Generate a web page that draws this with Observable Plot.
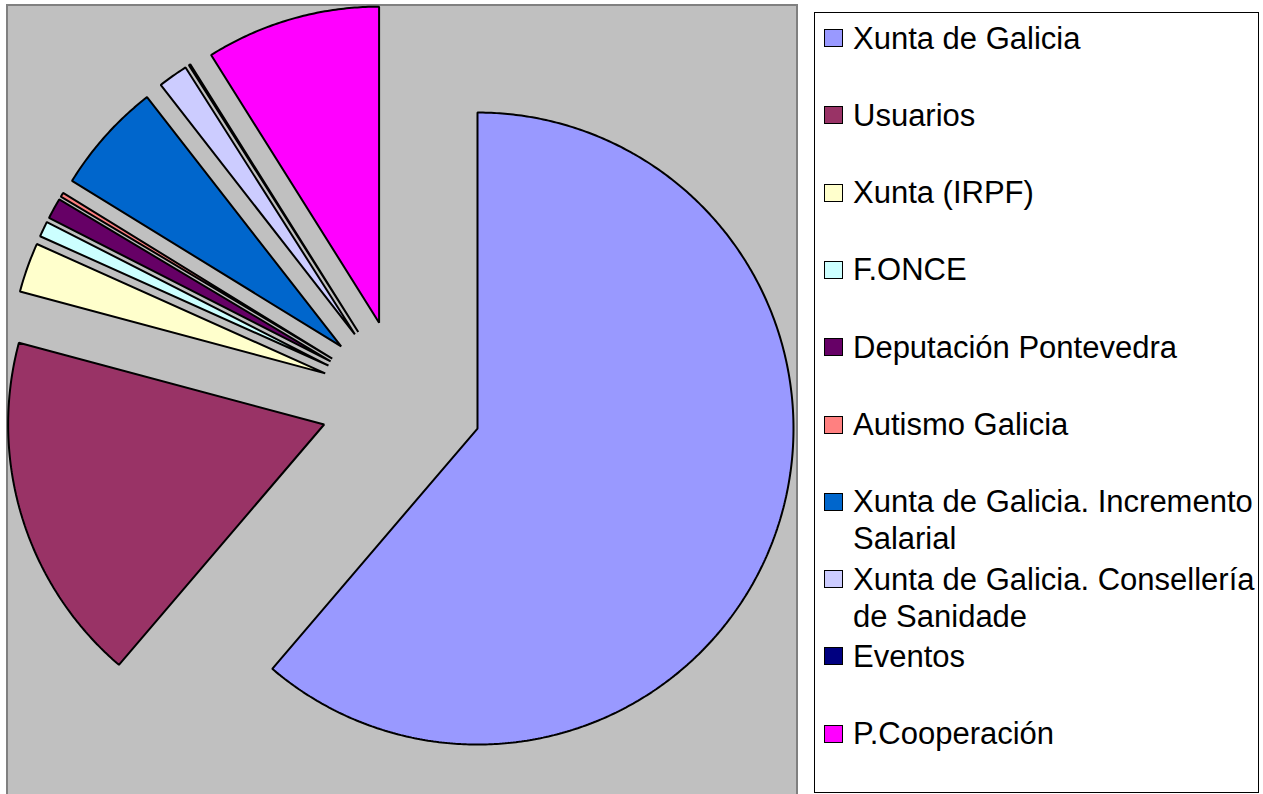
<!DOCTYPE html>
<html>
<head>
<meta charset="utf-8">
<script src="https://cdn.jsdelivr.net/npm/d3@7"></script>
<script src="https://cdn.jsdelivr.net/npm/@observablehq/plot@0.6"></script>
<style>
  body { margin: 0; background: #fff; font-family: "Liberation Sans", Arial, sans-serif; }
  #wrap { position: relative; width: 1263px; height: 794px; overflow: hidden; }
  #plotbg { position: absolute; left: 6px; top: 4px; width: 788px; height: 800px; background: #c0c0c0;
            border-left: 2px solid #808080; border-top: 2px solid #808080; border-right: 2px solid #808080; }
  #chart { position: absolute; left: 0; top: 0; }
  #legend { position: absolute; left: 814px; top: 12px; width: 445px; height: 781px; box-sizing: border-box;
            border: 1.5px solid #000; background: #fff; }
  .sw { position: absolute; left: 9px; width: 19px; height: 18px; box-sizing: border-box; border: 1.5px solid #000; }
  .lab { position: absolute; left: 38px; font-size: 31px; line-height: 37px; color: #000; white-space: nowrap; }
</style>
</head>
<body>
<div id="wrap">
  <div id="plotbg"></div>
  <div id="chart"></div>
  <div id="legend"></div>
</div>
<script>
// ---- data ----
const categories = [
  "Xunta de Galicia",
  "Usuarios",
  "Xunta (IRPF)",
  "F.ONCE",
  "Deputación Pontevedra",
  "Autismo Galicia",
  "Xunta de Galicia. Incremento Salarial",
  "Xunta de Galicia. Consellería de Sanidade",
  "Eventos",
  "P.Cooperación"
];
const shares = [61.25, 17.92, 2.54, 0.79, 1.06, 0.22, 5.69, 1.53, 0.08, 8.92];
const colors = ["#9999FF", "#993366", "#FFFFCC", "#CCFFFF", "#660066", "#FF8080", "#0066CC", "#CCCCFF", "#000080", "#FF00FF"];
const legendLines = [
  ["Xunta de Galicia"],
  ["Usuarios"],
  ["Xunta (IRPF)"],
  ["F.ONCE"],
  ["Deputación Pontevedra"],
  ["Autismo Galicia"],
  ["Xunta de Galicia. Incremento", "Salarial"],
  ["Xunta de Galicia. Consellería", "de Sanidade"],
  ["Eventos"],
  ["P.Cooperación"]
];

// ---- layout ----
const cx = 401, cy = 400, R = 316, explode = 81;
const total = d3.sum(shares);
const pts = [];
let acc = 0;
categories.forEach((name, i) => {
  const a0 = acc / total * 2 * Math.PI;
  acc += shares[i];
  const a1 = acc / total * 2 * Math.PI;
  const am = (a0 + a1) / 2;
  const vx = cx + explode * Math.sin(am), vy = cy - explode * Math.cos(am);
  pts.push({name, x: vx, y: vy});
  const n = Math.max(2, Math.ceil((a1 - a0) / (Math.PI / 360)));
  for (let k = 0; k <= n; k++) {
    const a = a0 + (a1 - a0) * k / n;
    pts.push({name, x: vx + R * Math.sin(a), y: vy - R * Math.cos(a)});
  }
});

const chart = Plot.plot({
  width: 800,
  height: 794,
  margin: 0,
  style: {background: "none", overflow: "visible"},
  x: {type: "identity", axis: null},
  y: {type: "identity", axis: null},
  color: {type: "ordinal", domain: categories, range: colors},
  marks: [
    Plot.line(pts, {x: "x", y: "y", z: "name", fill: "name", stroke: "#000", strokeWidth: 2,
                    curve: "linear-closed", strokeLinejoin: "miter"})
  ]
});
document.getElementById("chart").appendChild(chart);

// ---- legend ----
const leg = document.getElementById("legend");
categories.forEach((name, i) => {
  const c = 37 + i * 77.3 - 12;
  const sw = document.createElement("div");
  sw.className = "sw";
  sw.style.top = (c - 9) + "px";
  sw.style.background = colors[i];
  leg.appendChild(sw);
  const lab = document.createElement("div");
  lab.className = "lab";
  lab.style.top = (c - 18.5) + "px";
  lab.innerHTML = legendLines[i].join("<br>");
  leg.appendChild(lab);
});
</script>
</body>
</html>
